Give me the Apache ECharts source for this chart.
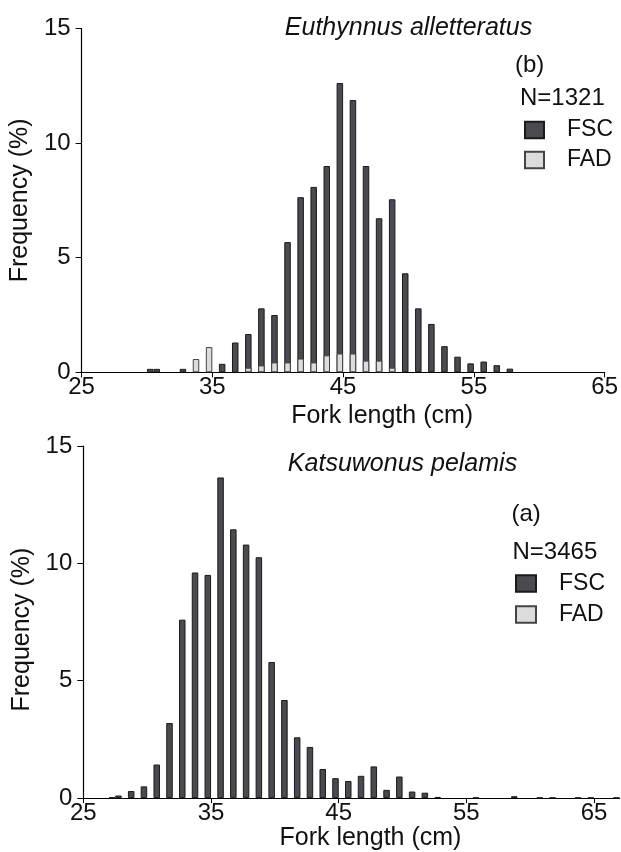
<!DOCTYPE html>
<html><head><meta charset="utf-8">
<script src="https://cdn.jsdelivr.net/npm/echarts@6/dist/echarts.min.js"></script>
<style>html,body{margin:0;padding:0;background:#fff}#c{width:621px;height:852px}</style>
</head><body><div id="c"></div>
<script>
// (b) Euthynnus alletteratus, N=1321 — bin midpoints (cm) and frequency (%)
const binMidTop = [30.25, 30.75, 32.75, 33.75, 34.75, 35.75, 36.75, 37.75, 38.75, 39.75, 40.75, 41.75, 42.75, 43.75, 44.75, 45.75, 46.75, 47.75, 48.75, 49.75, 50.75, 51.75, 52.75, 53.75, 54.75, 55.75, 56.75, 57.75];
const fadTop =    [0, 0, 0, 0.58, 1.1, 0, 0, 0.2, 0.3, 0.43, 0.43, 0.6, 0.43, 0.74, 0.82, 0.82, 0.51, 0.51, 0.2, 0, 0, 0, 0, 0, 0, 0, 0, 0];
const fscTop =    [0.15, 0.15, 0.15, 0, 0, 0.37, 1.3, 1.47, 2.49, 2.07, 5.25, 7.04, 7.66, 8.26, 11.8, 11.06, 8.49, 6.21, 7.35, 4.32, 2.79, 2.11, 1.14, 0.68, 0.39, 0.47, 0.31, 0.16];

// (a) Katsuwonus pelamis, N=3465
const binMidBottom = [27.25, 27.75, 28.75, 29.75, 30.75, 31.75, 32.75, 33.75, 34.75, 35.75, 36.75, 37.75, 38.75, 39.75, 40.75, 41.75, 42.75, 43.75, 44.75, 45.75, 46.75, 47.75, 48.75, 49.75, 50.75, 51.75, 52.75, 55.75, 58.75, 60.75, 61.75, 63.75, 64.75, 66.75];
const fadBottom =    [0, 0, 0, 0, 0, 0, 0, 0, 0, 0, 0, 0, 0, 0, 0, 0, 0, 0, 0, 0, 0, 0, 0, 0, 0, 0, 0, 0, 0, 0, 0, 0, 0, 0];
const fscBottom =    [0.03, 0.11, 0.3, 0.5, 1.43, 3.2, 7.6, 9.61, 9.51, 13.66, 11.45, 10.8, 10.26, 5.8, 4.18, 2.59, 2.18, 1.24, 0.85, 0.73, 0.95, 1.35, 0.35, 0.92, 0.28, 0.23, 0.05, 0.02, 0.08, 0.02, 0.02, 0.02, 0.02, 0.02];

const yTicks = [0, 5, 10, 15];
const xLabelStep = 10;
const seriesNames = ['FSC', 'FAD'];
const speciesTop = 'Euthynnus alletteratus';
const speciesBottom = 'Katsuwonus pelamis';
const panelTop = ['(b)', 'N=1321'];
const panelBottom = ['(a)', 'N=3465'];

const FONT = '"Liberation Sans", Arial, Helvetica, sans-serif';
const INK = '#111';
const fscStyle = {color: '#4a4a50', borderColor: '#1a1a1a', borderWidth: 1};
const fadStyle = {color: '#dcdcdc', borderColor: '#444', borderWidth: 1};

// FSC is drawn stacked above FAD: the dark bar spans FAD+FSC, the light FAD bar is drawn over its base
function pairs(xs, vs) { return xs.map((x, i) => [x, vs[i] > 0 ? vs[i] : '-']); }
function stackedTop(lower, upper) { return upper.map((v, i) => (v > 0 ? v + lower[i] : 0)); }

function xAxisCfg(grid, max, shift, gap) {
  return {
    gridIndex: grid, type: 'value', min: 25, max: max, interval: xLabelStep,
    axisLine: {onZero: false, lineStyle: {color: '#000', width: 1.2}},
    axisTick: {show: true, length: 5, lineStyle: {color: '#000', width: 1}},
    axisLabel: {fontSize: 24, color: INK, margin: 3, fontFamily: FONT, showMaxLabel: max % xLabelStep === 5},
    splitLine: {show: false},
    name: 'Fork length (cm)', nameLocation: 'middle', nameGap: gap,
    nameTextStyle: {fontSize: 25, color: INK, fontFamily: FONT, padding: [0, 0, 0, shift]}
  };
}
function yAxisCfg(grid, gap, pad) {
  return {
    gridIndex: grid, type: 'value', min: yTicks[0], max: yTicks[yTicks.length - 1], interval: yTicks[1] - yTicks[0],
    axisLine: {show: true, onZero: false, lineStyle: {color: '#000', width: 1.2}},
    axisTick: {show: true, length: 6, lineStyle: {color: '#000', width: 1}},
    axisLabel: {fontSize: 24, color: INK, margin: 11, fontFamily: FONT},
    splitLine: {show: false},
    name: 'Frequency (%)', nameLocation: 'middle', nameGap: gap,
    nameTextStyle: {fontSize: 25, color: INK, fontFamily: FONT, padding: pad}
  };
}
function barSeries(name, grid, xs, vs, style) {
  return {
    name: name, type: 'bar', xAxisIndex: grid, yAxisIndex: grid,
    barWidth: 6.5, barGap: '-100%', itemStyle: style, emphasis: {disabled: true},
    data: pairs(xs, vs), animation: false
  };
}
function legendCfg(left, top, w, gap) {
  return {
    orient: 'vertical', left: left, top: top, padding: 0, itemWidth: w, itemHeight: 16.5, itemGap: gap,
    icon: 'rect', selectedMode: false, data: seriesNames,
    textStyle: {fontSize: 23, color: INK, fontFamily: FONT, padding: [0, 0, 0, 18]}
  };
}
function label(text, left, top, italic, align) {
  return {
    text: text, left: left, top: top, padding: 0, textAlign: align || 'left',
    textStyle: {fontSize: italic ? 25 : 24, fontWeight: 'normal', fontStyle: italic ? 'italic' : 'normal', color: INK, fontFamily: FONT}
  };
}

const chart = echarts.init(document.getElementById('c'), null, {renderer: 'canvas'});
chart.setOption({
  animation: false,
  backgroundColor: '#fff',
  textStyle: {fontFamily: FONT},
  title: [
    label(speciesTop, 408.5, 16, true, 'center'),
    label(panelTop[0], 515, 53),
    label(panelTop[1], 520, 86.5),
    label(speciesBottom, 402.5, 452, true, 'center'),
    label(panelBottom[0], 511.5, 502),
    label(panelBottom[1], 512.5, 540.5)
  ],
  legend: [legendCfg(524, 118.5, 19, 7), legendCfg(515, 572, 20, 8)],
  grid: [
    {left: 76.7, right: 15.7, top: 28.5, bottom: 479.7, containLabel: false},
    {left: 83.3, right: 1.4, top: 446, bottom: 52.7, containLabel: false}
  ],
  xAxis: [xAxisCfg(0, 65, 78, 31), xAxisCfg(1, 67, 38, 25)],
  yAxis: [yAxisCfg(0, 38, [0, 0, 0, 0]), yAxisCfg(1, 46, [0, 15, 0, 0])],
  series: [
    barSeries('FSC', 0, binMidTop, stackedTop(fadTop, fscTop), fscStyle),
    barSeries('FAD', 0, binMidTop, fadTop, fadStyle),
    barSeries('FSC', 1, binMidBottom, stackedTop(fadBottom, fscBottom), fscStyle),
    barSeries('FAD', 1, binMidBottom, fadBottom, fadStyle)
  ]
});
</script>
</body></html>
